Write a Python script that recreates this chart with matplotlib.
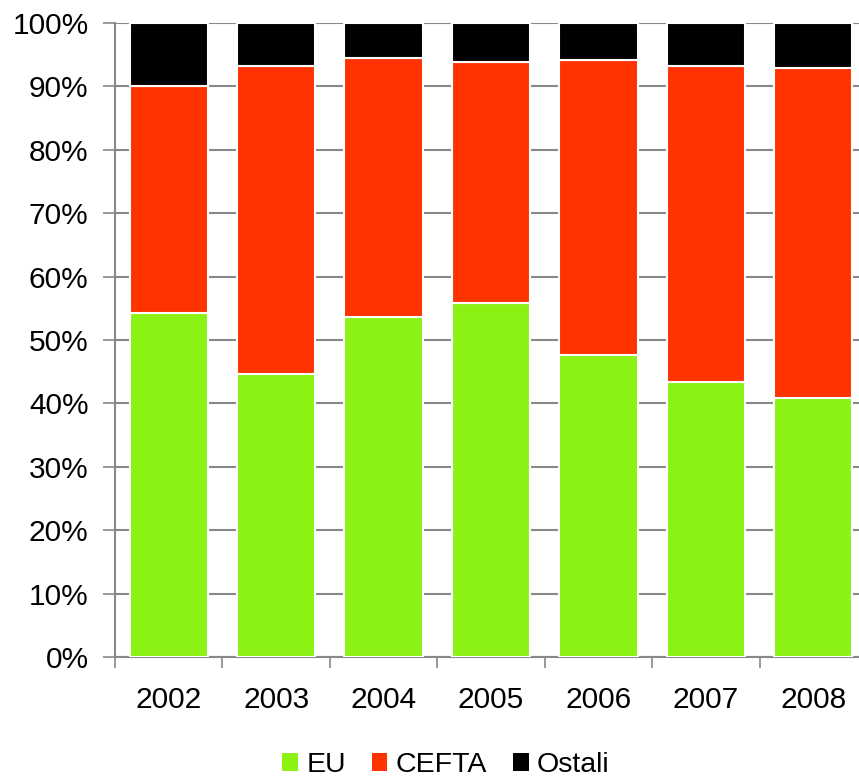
import matplotlib
matplotlib.use("Agg")
import matplotlib.pyplot as plt
from matplotlib.patches import Patch
import numpy as np

plt.rcParams['font.family'] = ['Liberation Sans', 'DejaVu Sans']

years = ["2002", "2003", "2004", "2005", "2006", "2007", "2008"]
eu = [54.2, 44.7, 53.7, 55.9, 47.6, 43.3, 40.8]
cefta = [35.9, 48.5, 40.8, 38.0, 46.6, 49.9, 52.1]
ostali = [round(100 - a - b, 1) for a, b in zip(eu, cefta)]

series = [("EU", eu, "#8cf214"), ("CEFTA", cefta, "#ff3300"), ("Ostali", ostali, "#000000")]

fig = plt.figure(figsize=(8.59, 7.82), dpi=100)
ax = fig.add_axes([115/859, 1 - 657/782, 752/859, 634/782])

x = np.arange(len(years))
bottom = np.zeros(len(years))
width = 0.73
for name, vals, col in series:
    vals = np.array(vals) / 100.0
    ax.bar(x, vals, width, bottom=bottom, color=col, edgecolor="white", linewidth=1.5, label=name, zorder=3)
    bottom += vals

ax.set_xlim(-0.5, len(years) - 0.5)
ax.set_ylim(0, 1)
ax.set_yticks(np.arange(0, 1.01, 0.1))
ax.set_yticklabels([f"{int(round(v*100))}%" for v in np.arange(0, 1.01, 0.1)], fontsize=21.5)
ax.set_xticks(x)
ax.set_xticklabels(years, fontsize=21.5)
ax.tick_params(axis='x', length=0, pad=21)
ax.set_xticks(np.arange(-0.5, len(years), 1), minor=True)
ax.tick_params(axis='x', which='minor', length=8, width=1.2, color="#888888")
ax.tick_params(axis='y', length=9, width=1.2, color="#888888", pad=10)
ax.yaxis.grid(True, color="#888888", linewidth=1.5, zorder=0)
for s in ["top", "right"]:
    ax.spines[s].set_visible(False)
for s in ["left", "bottom"]:
    ax.spines[s].set_color("#888888")
    ax.spines[s].set_linewidth(1.5)

handles = [Patch(facecolor=c, edgecolor="none") for _, _, c in series]
fig.legend(handles, [n for n, _, _ in series], loc="center", bbox_to_anchor=(446/859, 1 - 765/782),
           ncol=3, frameon=False, fontsize=20.5, handlelength=0.55, handleheight=0.55,
           handletextpad=0.3, columnspacing=0.9, borderpad=0.1)

fig.savefig("out.png", dpi=100)
